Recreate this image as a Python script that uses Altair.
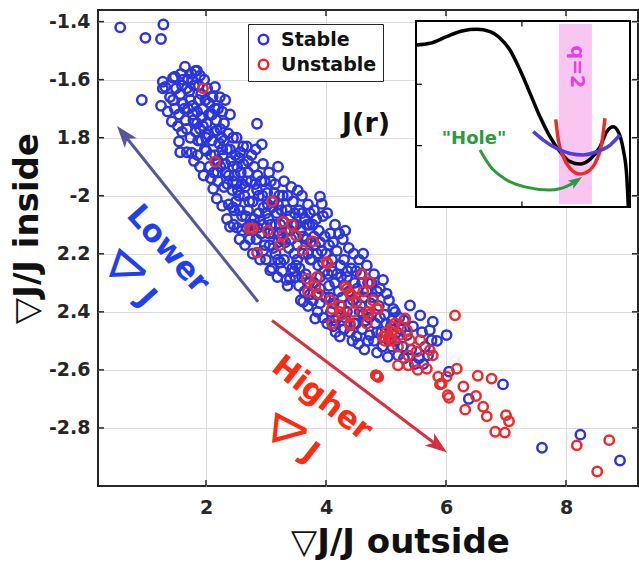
import altair as alt
import pandas as pd

# ---------------- data ----------------
stable_pts = [
    (0.57, -1.42), (0.99, -1.456), (1.25, -1.46), (1.29, -1.41), (0.93, -1.67),
    (1.28, -1.607), (1.28, -1.63), (1.32, -1.625), (1.45, -1.594), (1.48, -1.59), (1.43, -1.744),
    (1.48, -1.70), (1.25, -1.69), (1.4, -1.66), (1.36, -1.71),
    (1.65, -1.555), (1.57, -1.65), (1.62, -1.683), (1.6, -1.62), (1.55, -1.813), (1.57, -1.85),
    (1.7, -1.60), (1.68, -1.85), (1.72, -1.64), (1.55, -1.72), (1.66, -1.74), (1.6, -1.78),
    (1.7, -1.70), (1.74, -1.67), (1.58, -1.58), (1.68, -1.77), (1.74, -1.80), (1.53, -1.76),
    (1.82, -1.57), (1.9, -1.586), (1.85, -1.569), (1.85, -1.71), (1.85, -1.75), (1.87, -1.81),
    (1.76, -1.852), (1.92, -1.81), (1.8, -1.62), (1.92, -1.65), (1.78, -1.69), (1.95, -1.70),
    (1.83, -1.78), (1.95, -1.76), (1.98, -1.84), (1.8, -1.88), (1.9, -1.90), (1.97, -1.60),
    (1.88, -1.67), (1.93, -1.73), (1.79, -1.74), (1.99, -1.67), (1.86, -1.86), (1.96, -1.93),
    (2.01, -1.75), (2.0, -1.845), (2.15, -1.625), (2.18, -1.775), (2.1, -1.81), (2.12, -1.976),
    (2.2, -1.70), (2.05, -1.68), (2.1, -1.72), (2.22, -1.82), (2.06, -1.90), (2.15, -1.86),
    (2.24, -1.90), (2.08, -1.94), (2.2, -1.95), (2.04, -1.79), (2.17, -1.74), (2.23, -1.66),
    (2.11, -1.66), (2.2, -1.88), (2.13, -1.92), (2.02, -1.63), (2.18, -2.01), (2.24, -1.77),
    (2.32, -1.67), (2.37, -1.785), (2.35, -1.84), (2.27, -2.035), (2.4, -2.107), (2.3, -1.75),
    (2.45, -1.80), (2.28, -1.86), (2.42, -1.88), (2.33, -1.92), (2.48, -1.93), (2.3, -1.97),
    (2.44, -1.98), (2.38, -2.03), (2.47, -2.05), (2.35, -2.08), (2.26, -1.80), (2.4, -1.72),
    (2.49, -1.86), (2.36, -1.96), (2.27, -1.71), (2.46, -2.1),
    (2.51, -1.80), (2.62, -1.83), (2.65, -2.17), (2.55, -1.87), (2.7, -1.88), (2.58, -1.92),
    (2.68, -1.95), (2.53, -1.98), (2.64, -2.0), (2.72, -2.02), (2.56, -2.05), (2.66, -2.07),
    (2.52, -2.11), (2.6, -2.12), (2.74, -2.10), (2.7, -1.92), (2.57, -1.85), (2.73, -2.15),
    (2.6, -1.96), (2.5, -2.02), (2.68, -1.83), (2.56, -2.15),
    (2.85, -1.752), (2.93, -1.823), (2.9, -2.085), (2.8, -1.90), (2.95, -1.89), (2.82, -1.96),
    (2.98, -1.95), (2.78, -2.02), (2.88, -2.0), (2.96, -2.04), (2.8, -2.08), (2.92, -2.13),
    (2.84, -2.15), (2.98, -2.17), (2.78, -2.20), (2.9, -2.22), (2.86, -1.93), (2.76, -1.86),
    (2.94, -2.0), (2.83, -1.84),
    (3.2, -1.90), (3.07, -2.257), (3.05, -1.92), (3.15, -1.96), (3.02, -1.99), (3.22, -2.0),
    (3.1, -2.04), (3.18, -2.06), (3.04, -2.08), (3.24, -2.1), (3.12, -2.13), (3.2, -2.16),
    (3.06, -2.17), (3.16, -2.2), (3.24, -2.23), (3.0, -2.22), (3.1, -2.25), (3.19, -2.28),
    (3.03, -2.03), (3.14, -1.99), (3.08, -2.1),
    (3.4, -2.286), (3.3, -1.95), (3.42, -1.97), (3.28, -2.0), (3.45, -2.02), (3.35, -2.05),
    (3.48, -2.06), (3.3, -2.09), (3.4, -2.12), (3.26, -2.15), (3.38, -2.18), (3.47, -2.2),
    (3.3, -2.22), (3.44, -2.25), (3.34, -2.29), (3.27, -2.26), (3.49, -2.28), (3.36, -2.31),
    (3.46, -2.1),
    (3.53, -1.982), (3.62, -2.365), (3.6, -2.0), (3.7, -2.03), (3.55, -2.05), (3.65, -2.08),
    (3.72, -2.1), (3.58, -2.12), (3.68, -2.15), (3.52, -2.17), (3.62, -2.2), (3.74, -2.22),
    (3.56, -2.25), (3.66, -2.27), (3.72, -2.3), (3.55, -2.31), (3.64, -2.33), (3.7, -2.38),
    (3.58, -2.36), (3.73, -2.06),
    (3.9, -2.003), (3.93, -2.028), (3.82, -2.423), (3.8, -2.05), (3.95, -2.07), (3.78, -2.1),
    (3.88, -2.12), (3.98, -2.14), (3.82, -2.17), (3.93, -2.19), (3.76, -2.22), (3.87, -2.24),
    (3.97, -2.26), (3.8, -2.3), (3.9, -2.32), (3.99, -2.35), (3.78, -2.36), (3.86, -2.4),
    (3.95, -2.42), (3.84, -2.08),
    (4.07, -2.13), (4.12, -2.45), (4.02, -2.06), (4.15, -2.1), (4.22, -2.13), (4.05, -2.17),
    (4.18, -2.19), (4.1, -2.22), (4.24, -2.24), (4.03, -2.27), (4.15, -2.3), (4.21, -2.33),
    (4.06, -2.35), (4.2, -2.42), (4.08, -2.4), (4.23, -2.485), (4.16, -2.47), (4.02, -2.44),
    (4.12, -2.16),
    (4.32, -2.12), (4.4, -2.47), (4.28, -2.15), (4.38, -2.18), (4.46, -2.2), (4.3, -2.22),
    (4.42, -2.25), (4.35, -2.28), (4.48, -2.3), (4.27, -2.35), (4.4, -2.37), (4.32, -2.42),
    (4.47, -2.44), (4.3, -2.46), (4.44, -2.5), (4.36, -2.26),
    (4.62, -2.2), (4.51, -2.485), (4.73, -2.48), (4.55, -2.22), (4.68, -2.24), (4.58, -2.27),
    (4.7, -2.3), (4.52, -2.32), (4.64, -2.35), (4.74, -2.37), (4.56, -2.4), (4.66, -2.43),
    (4.6, -2.46), (4.7, -2.5), (4.54, -2.51), (4.64, -2.53),
    (4.95, -2.29), (5.01, -2.337), (4.8, -2.27), (4.9, -2.32), (4.78, -2.35), (4.88, -2.38),
    (4.98, -2.41), (4.82, -2.44), (4.92, -2.47), (4.8, -2.5), (4.94, -2.52), (4.85, -2.54),
    (5.12, -2.39), (5.03, -2.555), (5.05, -2.36), (5.15, -2.4), (5.22, -2.42), (5.08, -2.45),
    (5.18, -2.47), (5.1, -2.52), (5.2, -2.55), (5.05, -2.5),
    (5.4, -2.378), (5.3, -2.43), (5.45, -2.45), (5.35, -2.48), (5.28, -2.52), (5.42, -2.53),
    (5.3, -2.56), (5.48, -2.58),
    (5.57, -2.412), (5.78, -2.434), (6.01, -2.48), (5.73, -2.463), (5.76, -2.498), (5.6, -2.47),
    (5.65, -2.52), (5.55, -2.56), (5.7, -2.55), (5.85, -2.5), (6.05, -2.606), (5.62, -2.58),
    (6.95, -2.65), (6.38, -2.7), (7.6, -2.868), (8.24, -2.823), (8.9, -2.912),
    # denser core of the cloud
    (1.62, -1.60), (1.77, -1.60), (1.88, -1.62), (1.64, -1.70), (1.78, -1.72), (1.9, -1.77),
    (2.05, -1.72), (2.0, -1.80), (2.14, -1.78), (2.08, -1.86), (2.27, -1.84), (2.32, -1.89),
    (2.19, -1.92), (2.3, -1.81), (2.4, -1.84), (2.38, -1.93), (2.52, -1.90), (2.45, -1.95),
    (2.62, -1.89), (2.5, -1.96), (2.65, -1.97), (2.55, -2.0), (2.7, -2.05), (2.6, -2.07),
    (2.45, -2.04), (2.75, -1.95), (2.85, -1.98), (2.92, -1.95), (2.78, -2.10), (2.88, -2.06),
    (2.95, -2.10), (2.86, -2.11), (3.0, -2.06), (3.13, -2.02), (3.08, -1.95), (3.2, -2.03),
    (3.26, -2.05), (3.16, -2.10), (3.12, -2.18), (3.22, -2.13), (3.33, -2.12), (3.36, -2.0),
    (3.4, -2.07), (3.5, -2.10), (3.42, -2.15), (3.52, -2.22), (3.47, -2.26), (3.6, -2.06),
    (3.68, -2.10), (3.62, -2.14), (3.75, -2.16), (3.7, -2.2), (3.6, -2.28), (3.8, -2.14),
    (3.85, -2.2), (3.9, -2.16), (3.95, -2.23), (3.9, -2.28), (3.84, -2.34), (4.0, -2.2),
    (4.1, -2.26), (4.18, -2.27), (4.05, -2.31), (4.13, -2.37), (4.25, -2.28), (4.3, -2.31),
    (4.38, -2.33), (4.45, -2.36), (4.35, -2.4), (4.5, -2.26), (4.6, -2.3), (4.58, -2.38),
    (4.68, -2.33), (4.72, -2.42), (4.62, -2.41), (4.76, -2.3), (4.85, -2.33), (4.9, -2.42),
    (4.85, -2.47), (5.0, -2.44), (5.1, -2.43), (5.25, -2.46), (5.15, -2.5), (4.5, -2.44),
    (4.25, -2.38), (4.27, -2.43), (4.15, -2.43), (3.9, -2.37), (3.73, -2.34), (3.5, -2.24),
    (3.32, -2.16), (3.2, -2.22), (3.05, -2.13), (2.95, -2.19), (2.68, -2.11), (2.45, -1.90),
    (2.15, -1.70), (1.76, -1.58), (1.68, -1.63), (1.5, -1.63), (1.45, -1.67),
]

unstable_pts = [
    (1.95, -1.63), (2.15, -1.883), (3.1, -2.02), (2.73, -2.113), (3.03, -2.12), (2.85, -2.196),
    (3.28, -2.09), (3.43, -2.10), (3.28, -2.135), (3.5, -2.137), (3.23, -2.17), (3.61, -2.188),
    (3.78, -2.157), (4.01, -2.228), (2.78, -2.113), (4.03, -2.234), (3.68, -2.286), (3.85, -2.28),
    (3.82, -2.314), (3.7, -2.33), (3.87, -2.337), (4.07, -2.36), (4.1, -2.39), (4.23, -2.378),
    (4.35, -2.32), (4.43, -2.343), (4.6, -2.27), (4.73, -2.297), (4.62, -2.33), (4.51, -2.365),
    (4.45, -2.40), (4.78, -2.36), (4.87, -2.39), (4.7, -2.41), (4.4, -2.44), (4.1, -2.44),
    (4.26, -2.41), (4.68, -2.44), (5.12, -2.45), (4.32, -2.313), (4.4, -2.337), (4.23, -2.40),
    (4.68, -2.40), (4.85, -2.39), (4.4, -2.447), (5.32, -2.423), (5.15, -2.44), (4.95, -2.486),
    (5.09, -2.498), (5.23, -2.48), (5.35, -2.463), (5.2, -2.52), (5.4, -2.498), (5.51, -2.537),
    (5.37, -2.55), (5.57, -2.498), (5.73, -2.532), (5.78, -2.55), (5.2, -2.584), (5.37, -2.584),
    (5.53, -2.60), (5.68, -2.596), (5.87, -2.623), (5.9, -2.65), (6.15, -2.412), (6.18, -2.596),
    (4.85, -2.62), (4.87, -2.625), (4.83, -2.618), (6.29, -2.657), (6.03, -2.687), (6.01, -2.623),
    (5.93, -2.647), (6.53, -2.62), (6.76, -2.63), (6.05, -2.696), (6.5, -2.69), (6.32, -2.737),
    (6.62, -2.727), (6.68, -2.76), (7.0, -2.756), (7.05, -2.777), (6.82, -2.813), (6.98, -2.816),
    (8.18, -2.86), (8.72, -2.842), (8.52, -2.95),
    (5.0, -2.47), (5.05, -2.49), (4.98, -2.5), (5.1, -2.47),
]

status_names = ["Stable", "Unstable"]
x_ticks = [2, 4, 6, 8]
y_ticks = [-2.8, -2.6, -2.4, -2.2, -2.0, -1.8, -1.6, -1.4]
y_tick_labels = ["-2.8", "-2.6", "2.4", "2.2", "-2", "1.8", "-1.6", "-1.4"]

# arrows (data units): start, arrow-head centre, head angle
arrow_x0 = [2.867, 3.10]
arrow_y0 = [-2.365, -2.43]
arrow_x1 = [0.632, 5.87]
arrow_y1 = [-1.789, -2.862]
arrow_angle = [321, 127]
arrow_color = ["#56579b", "#d8303f"]

# inset curve J(r) (inset units 0..1)
black_r = [0.0, 0.065, 0.143, 0.22, 0.284, 0.346, 0.393, 0.439, 0.486, 0.533, 0.579, 0.626,
           0.673, 0.72, 0.766, 0.813, 0.86, 0.891, 0.922, 0.945, 0.969, 0.985, 0.992]
black_j = [0.871, 0.88, 0.916, 0.948, 0.955, 0.943, 0.907, 0.844, 0.737, 0.611, 0.486, 0.378,
           0.297, 0.244, 0.231, 0.256, 0.324, 0.405, 0.432, 0.405, 0.306, 0.163, 0.0]
red_r = [0.653, 0.665, 0.688, 0.72, 0.766, 0.813, 0.844, 0.868, 0.883]
red_j = [0.471, 0.36, 0.271, 0.208, 0.177, 0.199, 0.253, 0.342, 0.477]
blue_r = [0.548, 0.595, 0.657, 0.72, 0.782, 0.844, 0.907, 0.953]
blue_j = [0.405, 0.36, 0.315, 0.288, 0.28, 0.297, 0.333, 0.387]
green_r = [0.299, 0.346, 0.416, 0.509, 0.626, 0.706, 0.735]
green_j = [0.306, 0.22, 0.151, 0.108, 0.091, 0.112, 0.130]
band_r = [0.668, 0.822]
band_j = [0.016, 0.984]

# ---------------- style ----------------
PLOT_W, PLOT_H = 540, 476
FONT = "DejaVu Sans"
INK = "#262626"
BLUE = "#2b35dc"
RED = "#ec2a2e"
TEXT_BLUE = "#1f3ff2"
TEXT_RED = "#ff2a12"


def xs():
    return alt.Scale(domain=[0.2, 9.2], nice=False, zero=False)


def ys():
    return alt.Scale(domain=[-3.0, -1.36], nice=False, zero=False)


def ix():
    return alt.Scale(domain=[0, 1], range=[318, 532], nice=False, zero=False)


def iy():
    return alt.Scale(domain=[0, 1], range=[197, 11], nice=False, zero=False)


label_expr = "".join(
    f"abs(datum.value - ({v})) < 0.001 ? '{lab}' : " for v, lab in zip(y_ticks, y_tick_labels)
) + "datum.label"

rows = [{"x": x, "y": y, "status": "Stable"} for x, y in stable_pts]
rows += [{"x": x, "y": y, "status": "Unstable"} for x, y in unstable_pts]
pts = pd.DataFrame(rows)

points = alt.Chart(pts).mark_point(filled=False, size=88, strokeWidth=2.5, opacity=1).encode(
    x=alt.X("x:Q", scale=xs(), axis=alt.Axis(
        values=x_ticks, title="▽J/J outside", grid=True, ticks=False, domain=False,
        labelPadding=12, titleX=302, titleY=56, titleAlign="center", titleBaseline="middle")),
    y=alt.Y("y:Q", scale=ys(), axis=alt.Axis(
        values=y_ticks, labelExpr=label_expr, title="▽J/J inside", grid=True, ticks=False,
        domain=False, labelPadding=8, titleAngle=270, titleX=-71, titleY=218,
        titleAlign="center", titleBaseline="middle")),
    color=alt.Color("status:N", scale=alt.Scale(domain=status_names, range=[BLUE, RED]),
                    legend=alt.Legend(orient="none", legendX=150, legendY=14, title=None,
                                      fillColor="white", strokeColor=INK, padding=6,
                                      labelFont=FONT, labelFontSize=19, labelFontWeight="bold",
                                      labelColor="#111111", symbolSize=90, symbolStrokeWidth=2.5,
                                      symbolType="circle", rowPadding=4, labelOffset=8,
                                      cornerRadius=0)),
)

# inside ticks of the main box
xt = pd.DataFrame({"t": x_ticks})
yt = pd.DataFrame({"t": y_ticks})
tick_layers = [
    alt.Chart(xt).mark_rule(color=INK, strokeWidth=1.5).encode(
        x=alt.X("t:Q", scale=xs(), axis=None), y=alt.value(PLOT_H), y2=alt.value(PLOT_H - 6)),
    alt.Chart(xt).mark_rule(color=INK, strokeWidth=1.5).encode(
        x=alt.X("t:Q", scale=xs(), axis=None), y=alt.value(0), y2=alt.value(6)),
    alt.Chart(yt).mark_rule(color=INK, strokeWidth=1.5).encode(
        y=alt.Y("t:Q", scale=ys(), axis=None), x=alt.value(0), x2=alt.value(6)),
    alt.Chart(yt).mark_rule(color=INK, strokeWidth=1.5).encode(
        y=alt.Y("t:Q", scale=ys(), axis=None), x=alt.value(PLOT_W), x2=alt.value(PLOT_W - 6)),
]

arrows = pd.DataFrame({"x0": arrow_x0, "y0": arrow_y0, "x1": arrow_x1, "y1": arrow_y1,
                       "a": arrow_angle, "c": arrow_color})
arrow_lines = alt.Chart(arrows).mark_rule(strokeWidth=3).encode(
    x=alt.X("x0:Q", scale=xs(), axis=None), y=alt.Y("y0:Q", scale=ys(), axis=None),
    x2="x1:Q", y2="y1:Q", color=alt.Color("c:N", scale=None))
HEAD = "M0,-1L0.7,1L0,0.5L-0.7,1Z"
arrow_heads = alt.Chart(arrows).mark_point(shape=HEAD, filled=True, size=484, opacity=1,
                                           strokeWidth=0).encode(
    x=alt.X("x1:Q", scale=xs(), axis=None), y=alt.Y("y1:Q", scale=ys(), axis=None),
    angle=alt.Angle("a:Q", scale=None), color=alt.Color("c:N", scale=None))

# text annotations in the main panel: text, x, y, angle, colour, size, weight
ann_text = ["Lower", "∇", "J", "Higher", "∇", "J", "J(r)"]
ann_x = [1.36, 0.767, 1.0, 3.928, 3.445, 3.733, 4.667]
ann_y = [-2.185, -2.251, -2.355, -2.699, -2.805, -2.888, -1.752]
ann_angle = [48, 289, 48, 38, 276, 38, 0]
ann_color = [TEXT_BLUE, TEXT_BLUE, TEXT_BLUE, TEXT_RED, TEXT_RED, TEXT_RED, "#111111"]
ann_size = [31, 46, 31, 31, 46, 31, 27]
ann_weight = ["bold", "normal", "bold", "bold", "normal", "bold", "bold"]

ann_layers = []
for t, x, y, a, c, s, w in zip(ann_text, ann_x, ann_y, ann_angle, ann_color, ann_size, ann_weight):
    ann_layers.append(
        alt.Chart(pd.DataFrame({"x": [x], "y": [y], "t": [t]})).mark_text(
            font=FONT, fontSize=s, fontWeight=w, color=c, angle=a, align="center",
            baseline="middle").encode(
            x=alt.X("x:Q", scale=xs(), axis=None), y=alt.Y("y:Q", scale=ys(), axis=None),
            text="t:N"))

# ---------------- inset ----------------
frame = alt.Chart(pd.DataFrame({"r0": [0], "r1": [1], "j0": [0], "j1": [1]})).mark_rect(
    fill="white", stroke="black", strokeWidth=2).encode(
    x=alt.X("r0:Q", scale=ix(), axis=None), x2="r1:Q",
    y=alt.Y("j0:Q", scale=iy(), axis=None), y2="j1:Q")
band = alt.Chart(pd.DataFrame({"r0": [band_r[0]], "r1": [band_r[1]],
                               "j0": [band_j[0]], "j1": [band_j[1]]})).mark_rect(
    fill="#f8c6f1").encode(
    x=alt.X("r0:Q", scale=ix(), axis=None), x2="r1:Q",
    y=alt.Y("j0:Q", scale=iy(), axis=None), y2="j1:Q")
inset_ticks = alt.Chart(pd.DataFrame({
    "r0": [0.0, 0.0, 0.495, 0.495], "r1": [0.028, 0.028, 0.495, 0.495],
    "j0": [0.33, 0.66, 1.0, 0.0], "j1": [0.33, 0.66, 0.97, 0.03]})).mark_rule(
    color="black", strokeWidth=1.2).encode(
    x=alt.X("r0:Q", scale=ix(), axis=None), x2="r1:Q",
    y=alt.Y("j0:Q", scale=iy(), axis=None), y2="j1:Q")


def curve(rs, js, color, width=3.5):
    return alt.Chart(pd.DataFrame({"r": rs, "j": js})).mark_line(
        color=color, strokeWidth=width, interpolate="monotone").encode(
        x=alt.X("r:Q", scale=ix(), axis=None), y=alt.Y("j:Q", scale=iy(), axis=None))


green_head = alt.Chart(pd.DataFrame({"r": [0.749], "j": [0.14]})).mark_point(
    shape=HEAD, filled=True, size=200, angle=56, color="#2c9a3e", opacity=1).encode(
    x=alt.X("r:Q", scale=ix(), axis=None), y=alt.Y("j:Q", scale=iy(), axis=None))

inset_text_layers = []
for t, r, j, a, c, s in [("q=2", 0.752, 0.753, 90, "#e541de", 19),
                         ('"Hole"', 0.271, 0.366, 0, "#2c9a3e", 18)]:
    inset_text_layers.append(
        alt.Chart(pd.DataFrame({"r": [r], "j": [j], "t": [t]})).mark_text(
            font=FONT, fontSize=s, fontWeight="bold", color=c, angle=a, align="center",
            baseline="middle").encode(
            x=alt.X("r:Q", scale=ix(), axis=None), y=alt.Y("j:Q", scale=iy(), axis=None),
            text="t:N"))

layers = [points, *tick_layers, arrow_lines, arrow_heads, *ann_layers,
          frame, band, inset_ticks, inset_text_layers[0],
          curve(black_r, black_j, "#000000"),
          curve(red_r, red_j, "#ee2a2a"),
          curve(blue_r, blue_j, "#4a3fe0"),
          curve(green_r, green_j, "#2c9a3e", 3),
          green_head, inset_text_layers[1]]

chart = alt.layer(*layers).resolve_scale(x="independent", y="independent").properties(
    width=PLOT_W, height=PLOT_H, autosize="none",
    padding={"left": 98, "top": 10, "right": 1, "bottom": 77},
    background="white",
).configure_view(stroke=INK, strokeWidth=2).configure_axis(
    gridColor="#dcdcdc", gridWidth=1, labelFont=FONT, labelFontSize=19, labelFontWeight="bold",
    labelColor=INK, titleFont=FONT, titleFontSize=34, titleFontWeight="bold", titleColor="#111111",
)

chart.save("out.html", embed_options={"renderer": "svg", "actions": False})
